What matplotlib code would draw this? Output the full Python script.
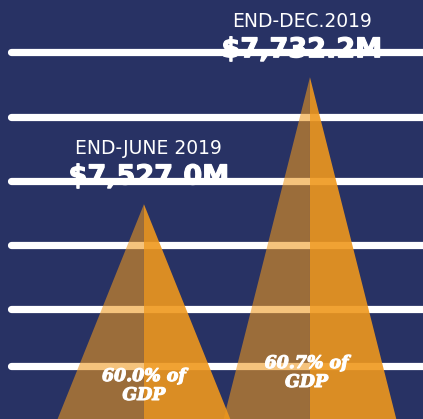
import matplotlib
matplotlib.use("Agg")
import matplotlib.pyplot as plt
import matplotlib.patheffects as pe
from matplotlib.patches import Polygon
from matplotlib.transforms import blended_transform_factory

# ---- data ----
periods = ["END-JUNE 2019", "END-DEC.2019"]
debt_values = [7527.0, 7732.2]          # $ millions
value_labels = ["$7,527.0M", "$7,732.2M"]
gdp_labels = ["60.0% of\nGDP", "60.7% of\nGDP"]

# ---- style ----
W, H, DPI = 423, 419, 100
navy = "#283264"
orange = "#EF981D"
y_min, y_max = 7180, 7857
x_min, x_max = -0.867, 1.681
half_base = 0.52

fig = plt.figure(figsize=(W / DPI, H / DPI), dpi=DPI)
fig.patch.set_facecolor(navy)
ax = fig.add_axes([0, 0, 1, 1])
ax.set_facecolor(navy)
ax.set_xlim(x_min, x_max)
ax.set_ylim(y_min, y_max)
ax.axis("off")

# decorative white lines (pixel rows from top)
line_rows = [52, 117, 181, 245, 309, 366]
for r in line_rows:
    f = 1 - r / H
    ax.plot([11 / W, 1.05], [f, f], transform=ax.transAxes, color="white",
            lw=5.2, solid_capstyle="round", zorder=1)

# triangles
for i, v in enumerate(debt_values):
    left = Polygon([(i - half_base, y_min), (i, v), (i, y_min)], closed=True,
                   facecolor=orange, alpha=0.58, edgecolor="none", zorder=2)
    right = Polygon([(i, y_min), (i, v), (i + half_base, y_min)], closed=True,
                    facecolor=orange, alpha=0.9, edgecolor="none", zorder=2)
    ax.add_patch(left)
    ax.add_patch(right)

# labels above apex
dx = [5, -8]
thick = [pe.withStroke(linewidth=0.9, foreground="white")]
for i, v in enumerate(debt_values):
    ax.annotate(periods[i], xy=(i, v), xytext=(dx[i], 56), textcoords="offset pixels",
                ha="center", va="center", color="white", fontsize=13.5,
                family="DejaVu Sans", zorder=3)
    ax.annotate(value_labels[i], xy=(i, v), xytext=(dx[i], 27), textcoords="offset pixels",
                ha="center", va="center", color="white", fontsize=19.5,
                family="DejaVu Sans", weight="bold", zorder=3, path_effects=thick)

# GDP labels near bottom
bt = blended_transform_factory(ax.transData, ax.transAxes)
gdp_rows = [386, 373]
gdp_fx = [pe.withStroke(linewidth=0.8, foreground="white")]
for i, lab in enumerate(gdp_labels):
    ax.text(i + (0 if i == 0 else -0.02), 1 - gdp_rows[i] / H, lab, transform=bt,
            ha="center", va="center", color="white", fontsize=12.5,
            family="DejaVu Serif", weight="bold", style="italic",
            linespacing=1.15, zorder=4, path_effects=gdp_fx)

fig.savefig("out.png", dpi=DPI, facecolor=navy)
